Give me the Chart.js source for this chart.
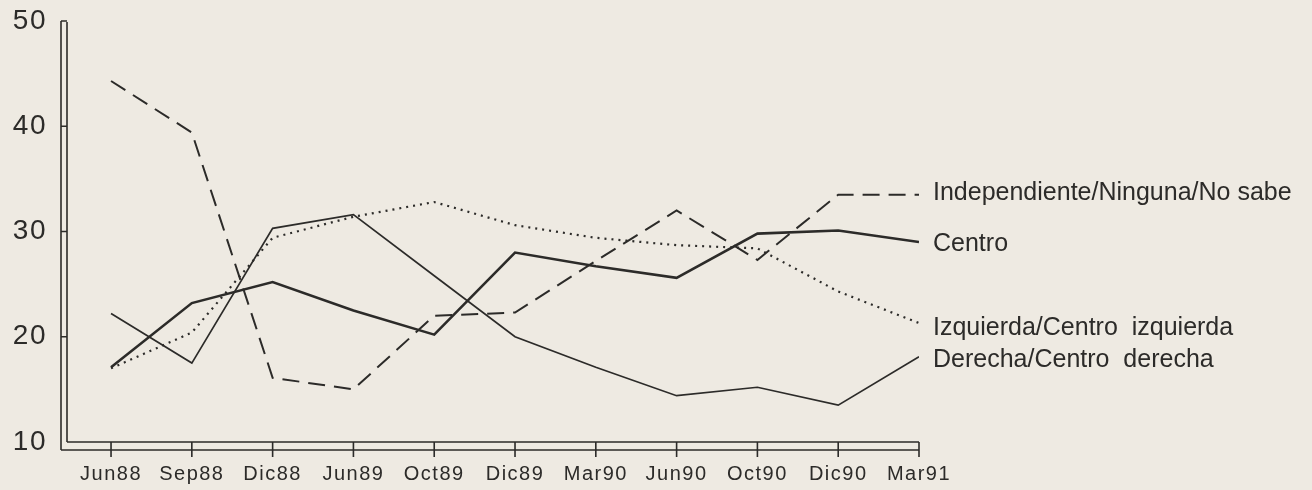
<!DOCTYPE html>
<html>
<head>
<meta charset="utf-8">
<title>Identificación política 1988-1991</title>
<script src="https://cdn.jsdelivr.net/npm/chart.js@4.4.1/dist/chart.umd.min.js"></script>
<style>
  html, body { margin: 0; padding: 0; background: #eeeae2; }
  #wrap { position: relative; width: 1312px; height: 490px; }
</style>
</head>
<body>
<div id="wrap"><canvas id="c1"></canvas></div>
<script>
// data (percent)
const periods = ['Jun88','Sep88','Dic88','Jun89','Oct89','Dic89','Mar90','Jun90','Oct90','Dic90','Mar91'];
const independiente = [44.3, 39.4, 16.1, 15.0, 22.0, 22.3, 27.2, 32.0, 27.3, 33.5, 33.5];
const centro        = [17.1, 23.2, 25.2, 22.5, 20.2, 28.0, 26.7, 25.6, 29.8, 30.1, 29.0];
const izquierda     = [17.0, 20.4, 29.4, 31.4, 32.8, 30.6, 29.4, 28.7, 28.4, 24.3, 21.3];
const derecha       = [22.2, 17.5, 30.3, 31.6, 25.8, 20.0, 17.1, 14.4, 15.2, 13.5, 18.1];
const yTicks = [10, 20, 30, 40, 50];

const ink = '#2c2b29';
const pts = arr => arr.map((v, i) => ({ x: i, y: v }));

// line-end labels, nudged a little like the print
const endLabels = [
  { text: 'Independiente/Ninguna/No sabe', dy: -2 },
  { text: 'Centro', dy: 2 },
  { text: 'Izquierda/Centro  izquierda', dy: 5 },
  { text: 'Derecha/Centro  derecha', dy: 3 }
];

const frame = {
  id: 'frame',
  beforeLayout(chart) { chart.ctx.letterSpacing = '1.5px'; },
  beforeDraw(chart) { chart.ctx.letterSpacing = '1.5px'; },
  afterDraw(chart) {
    const ctx = chart.ctx;
    const a = chart.chartArea;
    const xs = chart.scales.x, ys = chart.scales.y;
    ctx.save();
    ctx.strokeStyle = ink;
    ctx.lineWidth = 1.6;
    ctx.beginPath();
    // double left axis
    ctx.moveTo(a.left - 6, a.top); ctx.lineTo(a.left - 6, a.bottom + 8);
    ctx.moveTo(a.left, a.top + 1); ctx.lineTo(a.left, a.bottom);
    ctx.moveTo(a.left - 6, a.top); ctx.lineTo(a.left, a.top);
    // double bottom axis
    ctx.moveTo(a.left, a.bottom); ctx.lineTo(a.right, a.bottom);
    ctx.moveTo(a.left - 6, a.bottom + 8); ctx.lineTo(a.right, a.bottom + 8);
    // x ticks
    periods.forEach((p, i) => {
      const px = xs.getPixelForValue(i);
      ctx.moveTo(px, a.bottom); ctx.lineTo(px, a.bottom + 15);
    });
    // y ticks
    yTicks.slice(1, -1).forEach(v => {
      const py = ys.getPixelForValue(v);
      ctx.moveTo(a.left - 6, py); ctx.lineTo(a.left, py);
    });
    ctx.stroke();

    // labels at the ends of the lines
    ctx.letterSpacing = '0px';
    ctx.fillStyle = ink;
    ctx.font = '25px "Liberation Sans", Arial, sans-serif';
    ctx.textBaseline = 'middle';
    ctx.textAlign = 'left';
    chart.data.datasets.forEach((ds, i) => {
      const meta = chart.getDatasetMeta(i);
      const last = meta.data[meta.data.length - 1];
      ctx.fillText(endLabels[i].text, last.x + 14, last.y + endLabels[i].dy);
    });
    ctx.restore();
  }
};

const config = {
  type: 'line',
  data: {
    datasets: [
      { label: 'Independiente/Ninguna/No sabe', data: pts(independiente), borderColor: ink, borderWidth: 2, borderDash: [17, 9] },
      { label: 'Centro', data: pts(centro), borderColor: ink, borderWidth: 2.6 },
      { label: 'Izquierda/Centro izquierda', data: pts(izquierda), borderColor: ink, borderWidth: 2.2, borderDash: [2, 5] },
      { label: 'Derecha/Centro derecha', data: pts(derecha), borderColor: ink, borderWidth: 1.7 }
    ]
  },
  options: {
    responsive: false,
    animation: false,
    layout: { padding: { top: 21, right: 393, bottom: 0, left: 0 } },
    elements: { point: { radius: 0 }, line: { tension: 0, fill: false } },
    plugins: { legend: { display: false }, tooltip: { enabled: false } },
    scales: {
      x: {
        type: 'linear',
        min: -0.545,
        max: 10,
        grid: { display: false },
        border: { display: false },
        afterFit(s) { s.height = 48; s.paddingLeft = 0; s.paddingRight = 0; },
        afterBuildTicks(s) { s.ticks = periods.map((p, i) => ({ value: i })); },
        ticks: {
          autoSkip: false,
          maxRotation: 0,
          padding: 12,
          color: ink,
          font: { family: '"Liberation Sans", Arial, sans-serif', size: 20 },
          callback: v => periods[v] ?? ''
        }
      },
      y: {
        min: 10,
        max: 50,
        grid: { display: false },
        border: { display: false },
        afterFit(s) { s.width = 67; s.paddingTop = 0; s.paddingBottom = 0; },
        afterBuildTicks(s) { s.ticks = yTicks.map(v => ({ value: v })); },
        ticks: {
          padding: 12,
          color: ink,
          font: { family: '"Liberation Sans", Arial, sans-serif', size: 28 },
          callback: v => String(v)
        }
      }
    }
  },
  plugins: [frame]
};

const canv = document.getElementById('c1');
canv.width = 1312;
canv.height = 490;
new Chart(canv.getContext('2d'), config);
</script>
</body>
</html>
